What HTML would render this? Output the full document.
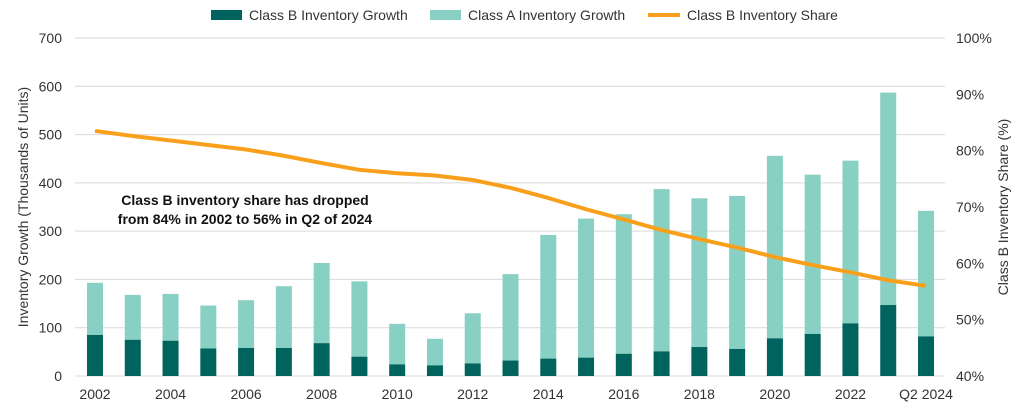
<!DOCTYPE html>
<html><head><meta charset="utf-8"><style>
html,body{margin:0;padding:0;background:#fff;}
svg{display:block;font-family:"Liberation Sans",Arial,sans-serif;}
</style></head><body>
<svg id="c" width="1024" height="410" xmlns="http://www.w3.org/2000/svg"></svg>
<script>
const s=document.getElementById('c');
let h='';
const y0=376,yT=38,x0=75,x1=945;
const yL=v=>y0-v/700*(y0-yT);
const yR=p=>y0-(p-40)/60*(y0-yT);
for(let v=0;v<=700;v+=100){const y=yL(v);
 h+=`<line x1="${x0}" x2="${x1}" y1="${y}" y2="${y}" stroke="#d9d9d9" stroke-width="1"/>`;
 h+=`<text x="62" y="${y+5}" text-anchor="end" font-size="14" fill="#333">${v}</text>`;}
for(let p=40;p<=100;p+=10){h+=`<text x="956" y="${yR(p)+5}" font-size="14" fill="#333">${p}%</text>`;}
const tot=[193,168,170,146,157,186,234,196,108,77,130,211,292,326,335,387,368,373,456,417,446,587,342];
const b=[85,75,73,57,58,58,68,40,24,22,26,32,36,38,46,51,60,56,78,87,109,147,82];
const sh=[83.5,82.6,81.8,81.0,80.2,79.1,77.8,76.6,76.0,75.6,74.8,73.4,71.6,69.6,67.8,65.9,64.3,62.8,61.1,59.7,58.4,57.0,56.0];
const bx=i=>95+i*(926-95)/22;
const w=16;
tot.forEach((t,i)=>{const x=bx(i)-w/2;
 h+=`<rect x="${x}" y="${yL(t)}" width="${w}" height="${yL(b[i])-yL(t)}" fill="#88cfc4"/>`;
 h+=`<rect x="${x}" y="${yL(b[i])}" width="${w}" height="${y0-yL(b[i])}" fill="#00635d"/>`;});
h+=`<polyline fill="none" stroke="#f8a01c" stroke-width="4" stroke-linejoin="round" points="${sh.map((p,i)=>bx(i)+','+yR(p)).join(' ')}"/>`;
const labs=['2002','2004','2006','2008','2010','2012','2014','2016','2018','2020','2022'];
labs.forEach((l,k)=>{h+=`<text x="${bx(k*2)}" y="399" text-anchor="middle" font-size="14" fill="#333">${l}</text>`;});
h+=`<text x="${bx(22)}" y="399" text-anchor="middle" font-size="14" fill="#333">Q2 2024</text>`;
h+=`<text transform="translate(28,207) rotate(-90)" text-anchor="middle" font-size="14" fill="#333">Inventory Growth (Thousands of Units)</text>`;
h+=`<text transform="translate(1008,207) rotate(-90)" text-anchor="middle" font-size="14" fill="#333">Class B Inventory Share (%)</text>`;
h+=`<text x="245" y="205" text-anchor="middle" font-size="14" font-weight="bold" fill="#111">Class B inventory share has dropped</text>`;
h+=`<text x="245" y="224" text-anchor="middle" font-size="14" font-weight="bold" fill="#111">from 84% in 2002 to 56% in Q2 of 2024</text>`;
h+=`<rect x="211" y="10" width="31" height="10" fill="#00635d"/><text x="249" y="20" font-size="14" fill="#333">Class B Inventory Growth</text>`;
h+=`<rect x="430" y="10" width="31" height="10" fill="#88cfc4"/><text x="468" y="20" font-size="14" fill="#333">Class A Inventory Growth</text>`;
h+=`<line x1="648" x2="680" y1="15" y2="15" stroke="#f8a01c" stroke-width="4"/><text x="687" y="20" font-size="14" fill="#333">Class B Inventory Share</text>`;
s.innerHTML=h;
</script>
</body></html>
